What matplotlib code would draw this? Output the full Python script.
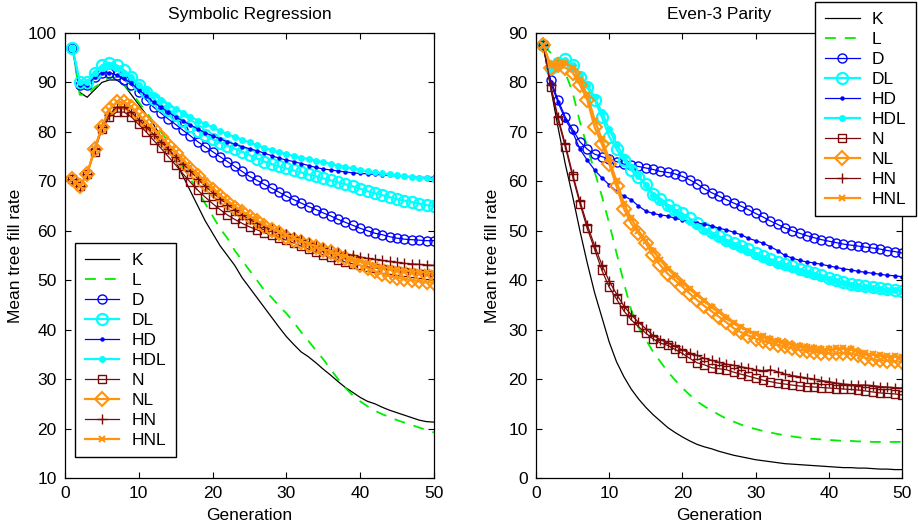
import numpy as np
import matplotlib
matplotlib.use("Agg")
import matplotlib.pyplot as plt

plt.rcParams['font.family'] = ['Liberation Sans', 'DejaVu Sans']

gens = list(range(1, 51))
labels = ["K", "L", "D", "DL", "HD", "HDL", "N", "NL", "HN", "HNL"]
titles = ["Symbolic Regression", "Even-3 Parity"]

# ---------------- Symbolic Regression ----------------
sr_K = [97, 88, 87, 88.5, 90, 90.5, 90.5, 89.5, 87.5, 85.5, 83.5, 81.5, 79, 76.5, 74, 71, 68, 65, 62, 59.5,
        57, 55, 53, 50.5, 48.5, 46.5, 44.5, 42.5, 40.5, 38.6, 37, 35.5, 34.5, 33.3, 32, 30.8, 29.5, 28.3, 27.3, 26.3,
        25.5, 25, 24.3, 23.7, 23.2, 22.7, 22.2, 21.7, 21.4, 21.3]
sr_L = [97, 87.5, 87.5, 89, 90, 91, 91, 89.5, 88, 86, 84, 82, 80, 78, 75.5, 73, 70.5, 68, 65.5, 63,
        60.5, 58.5, 56, 54, 52, 50, 48, 46.5, 44.8, 43.3, 41.5, 39.5, 37.7, 35.8, 34, 32, 30, 28.2, 26.7, 25.5,
        24.5, 23.6, 22.9, 22.3, 21.7, 21.2, 20.7, 20.2, 19.7, 19.2]
sr_D = [97, 89.5, 89.5, 91, 92, 92, 91.5, 90.5, 89.5, 88, 86.5, 85, 83.8, 82.6, 81.5, 80.3, 79.2, 78, 77, 76,
        75, 74, 73, 72, 71, 70.2, 69.4, 68.6, 67.8, 67, 66.3, 65.6, 64.9, 64.3, 63.6, 63, 62.3, 61.7, 61.1, 60.5,
        60, 59.5, 59.2, 58.8, 58.5, 58.3, 58.2, 58.1, 58, 58]
sr_DL = [97, 90, 90, 92, 93.5, 94, 93.5, 92.5, 91, 89.5, 88, 86.7, 85.5, 84.5, 83.5, 82.3, 81.2, 80.2, 79.3, 78.5,
         77.8, 77.2, 76.6, 76, 75.3, 74.6, 74, 73.5, 73, 72.6, 72.2, 71.8, 71.4, 71, 70.6, 70.2, 69.8, 69.4, 69, 68.5,
         68, 67.6, 67.2, 66.8, 66.4, 66.1, 65.8, 65.5, 65.2, 65]
sr_HD = [97, 89.5, 89.5, 91, 92, 92, 91.5, 90.8, 89.8, 88.5, 87.3, 86, 85, 84, 83, 82.2, 81.4, 80.6, 79.8, 79.2,
         78.6, 78, 77.5, 77, 76.6, 76.2, 75.7, 75.2, 74.7, 74.3, 74, 73.6, 73.2, 72.8, 72.5, 72.3, 72.1, 71.9, 71.7, 71.6,
         71.5, 71.4, 71.3, 71.2, 71.1, 71, 70.9, 70.8, 70.8, 70.8]
sr_HDL = [97, 90, 90, 92, 93, 93.5, 93, 92, 91, 89.5, 88.5, 87.5, 86.5, 85.5, 84.7, 83.9, 83.1, 82.3, 81.6, 80.9,
          80.2, 79.5, 79, 78.4, 77.9, 77.3, 76.8, 76.3, 75.9, 75.5, 75.1, 74.8, 74.5, 74.2, 73.9, 73.5, 73.2, 72.9, 72.6, 72.3,
          72, 71.8, 71.6, 71.4, 71.2, 71, 70.9, 70.7, 70.6, 70.5]
sr_N = [70.5, 69, 71.5, 76, 80.5, 83, 84, 84, 83, 81.5, 80, 78.3, 76.7, 75, 73.3, 71.5, 69.8, 68.2, 66.8, 65.5,
        64.3, 63.2, 62.3, 61.5, 60.8, 60.2, 59.6, 59.1, 58.6, 58.1, 57.5, 56.9, 56.3, 55.7, 55.1, 54.6, 54.1, 53.7, 53.3, 53,
        52.7, 52.5, 52.3, 52.1, 51.9, 51.7, 51.5, 51.3, 51.1, 51]
sr_NL = [70.5, 69, 71.5, 76.5, 81, 84.5, 86, 86, 85, 83.5, 82, 80.5, 79, 77.3, 75.7, 74, 72.5, 71, 69.5, 68.2,
         67, 65.8, 64.7, 63.7, 62.8, 61.9, 61, 60.2, 59.5, 58.8, 58.2, 57.7, 57.2, 56.7, 56.2, 55.7, 55.2, 54.5, 53.8, 53,
         52.4, 51.8, 51.3, 50.8, 50.5, 50.2, 50, 49.8, 49.6, 49.5]
sr_HN = [70.5, 69, 71.5, 76.5, 81, 83.5, 85, 85, 84, 82.5, 81, 79.5, 78, 76.5, 75, 73.5, 72, 70.5, 69, 67.7,
         66.5, 65.3, 64.2, 63.2, 62.3, 61.5, 60.8, 60.3, 59.8, 59.3, 58.8, 58.2, 57.6, 57, 56.5, 56, 55.6, 55.3, 55, 54.7,
         54.4, 54.2, 54, 53.8, 53.6, 53.4, 53.3, 53.2, 53.1, 53]
sr_HNL = [70.5, 69, 71.5, 76.5, 81, 84.5, 86, 86, 85, 83.5, 82, 80.5, 79, 77.5, 76, 74.4, 72.9, 71.4, 70, 68.6,
          67.3, 66.1, 65, 64, 63, 62.1, 61.3, 60.5, 59.8, 59.2, 58.6, 58, 57.4, 56.8, 56.3, 55.8, 55.3, 54.8, 54.3, 53.8,
          53.4, 53, 52.7, 52.4, 52.2, 52, 51.8, 51.7, 51.6, 51.5]

# ---------------- Even-3 Parity ----------------
ep_K = [87.5, 79, 71, 63.5, 57, 50, 43.5, 37.5, 32.5, 27.5, 23.5, 20.5, 18, 16, 14.3, 12.8, 11.5, 10.2, 9.2, 8.3,
        7.5, 6.8, 6.3, 5.9, 5.4, 5, 4.6, 4.3, 4, 3.7, 3.5, 3.3, 3.1, 2.9, 2.8, 2.7, 2.6, 2.5, 2.4, 2.3,
        2.2, 2.1, 2.1, 2, 2, 1.9, 1.8, 1.8, 1.7, 1.7]
ep_L = [87.5, 86, 84.5, 82, 78, 72, 67, 62, 57, 51.5, 45.5, 39.5, 34, 30.5, 28, 25.5, 23.5, 21.5, 19.8, 18.2,
        16.8, 15.5, 14.5, 13.6, 12.8, 12, 11.4, 10.8, 10.3, 9.9, 9.5, 9.2, 8.9, 8.6, 8.4, 8.2, 8, 7.9, 7.8, 7.7,
        7.6, 7.5, 7.5, 7.4, 7.4, 7.3, 7.3, 7.3, 7.3, 7.3]
ep_D = [87.5, 80.5, 76.5, 73, 70.5, 68, 66.5, 65.5, 65, 64.5, 64, 63.5, 63.3, 63, 62.7, 62.4, 62, 61.8, 61.5, 61,
        60.3, 59.5, 58.5, 57.7, 57, 56.3, 55.6, 55, 54.3, 53.5, 52.8, 52, 51.3, 50.6, 50, 49.5, 49, 48.6, 48.2, 47.9,
        47.6, 47.3, 47.1, 46.9, 46.7, 46.5, 46.3, 46, 45.8, 45.5]
ep_DL = [87.5, 83, 84, 84.8, 83.5, 81, 79, 76.5, 73, 69, 66.5, 64.3, 62.3, 60.8, 59.5, 57.5, 56.5, 55.3, 54.3, 53.5,
         52.5, 51.6, 50.5, 49.7, 48.9, 48.2, 47.6, 47, 46.3, 45.5, 44.8, 44.2, 43.7, 43.3, 42.8, 42.3, 41.9, 41.5, 41, 40.5,
         40, 39.6, 39.3, 39, 38.8, 38.6, 38.4, 38.2, 38, 37.8]
ep_HD = [87.5, 80, 76, 72.5, 70, 66.5, 64.3, 62.3, 60.7, 59.3, 58, 57, 56.3, 55, 54, 53.5, 53.2, 53, 52.5, 52.2,
         52, 51.6, 51.3, 51, 50.5, 50.2, 49.7, 49.2, 48.5, 48, 47.5, 46.8, 46, 45, 44.5, 44, 43.7, 43.5, 43.2, 42.9,
         42.6, 42.3, 42.1, 41.8, 41.6, 41.4, 41.2, 41, 40.9, 40.7]
ep_HDL = [87.5, 82.5, 83.5, 84.5, 83.5, 81.5, 79.5, 77, 74, 70.5, 67.5, 65, 62.8, 61, 59.3, 57.3, 56, 54.8, 53.7, 52.8,
          51.8, 50.9, 50, 49.2, 48.4, 47.7, 47.1, 46.5, 45.8, 45.1, 44.4, 43.8, 43.3, 42.9, 42.4, 41.9, 41.5, 41.1, 40.7, 40.2,
          39.8, 39.4, 39.1, 38.8, 38.6, 38.4, 38.2, 38.1, 38, 37.9]
ep_N = [87.5, 79, 72.5, 67, 61, 55.5, 50.5, 46.3, 42, 38.6, 36.2, 33.8, 32, 30.6, 29.3, 28.1, 27.3, 26.8, 26, 25.2,
        24.2, 23.3, 22.9, 22.3, 22.1, 21.9, 21.4, 21, 20.6, 20.2, 19.8, 19.5, 19.2, 19, 18.8, 18.6, 18.5, 18.4, 18.3, 18.2,
        18.1, 18, 17.9, 17.8, 17.6, 17.4, 17.2, 17.1, 17, 16.8]
ep_NL = [87.5, 83, 83.5, 83, 82, 79.5, 76.5, 71, 67.5, 63.5, 59, 54.5, 51.5, 49.5, 47.5, 45, 43, 41.3, 40, 38.7,
         37.3, 36, 34.8, 33.7, 32.6, 31.5, 30.3, 29.5, 28.8, 28.2, 27.7, 27.3, 26.9, 26.6, 26.2, 25.9, 25.7, 25.5, 25.3, 25.2,
         25.2, 25.3, 25.2, 24.8, 24.3, 24, 23.8, 23.7, 23.6, 23.5]
ep_HN = [87.5, 79.5, 73, 67.5, 61.5, 56, 51.2, 47, 43.1, 39.8, 37.2, 34.8, 33, 31.5, 30.2, 28.8, 28, 27.3, 26.6, 25.9,
         25.3, 24.8, 24.2, 23.8, 23.4, 23, 22.8, 22.5, 22.2, 21.9, 21.7, 21.9, 21.5, 21, 20.7, 20.5, 20.2, 20, 19.7, 19.5,
         19.2, 19, 18.9, 18.8, 18.8, 18.7, 18.5, 18.4, 18.3, 18.2]
ep_HNL = [87.5, 83.5, 84, 84, 83, 80.5, 77.5, 72.5, 68.5, 64.5, 60, 55.5, 52.5, 50, 48, 46, 44, 42.3, 40.8, 39.5,
          38.2, 37, 35.8, 34.5, 33.5, 32.3, 31.3, 30.5, 29.8, 29.2, 28.7, 28.2, 27.7, 27.3, 27, 26.7, 26.4, 26.2, 26, 26,
          26.2, 26.3, 26, 25.5, 25.2, 25, 24.8, 24.7, 24.6, 24.5]

sr_series = [sr_K, sr_L, sr_D, sr_DL, sr_HD, sr_HDL, sr_N, sr_NL, sr_HN, sr_HNL]
ep_series = [ep_K, ep_L, ep_D, ep_DL, ep_HD, ep_HDL, ep_N, ep_NL, ep_HN, ep_HNL]

blue = '#0000ff'
cyan = '#00ffff'
green = '#00ee00'
dred = '#7a0a0a'
orange = '#ff9410'

styles = {
    "K":   dict(color='black', lw=0.9, ls='-'),
    "L":   dict(color=green, lw=1.3, ls=(0, (6, 5))),
    "D":   dict(color=blue, lw=0.9, marker='o', ms=6.5, mfc='none', mew=1.0),
    "DL":  dict(color=cyan, lw=1.6, marker='o', ms=8, mfc='none', mew=1.6),
    "HD":  dict(color=blue, lw=0.9, marker='o', ms=3.2, mfc=blue, mew=0),
    "HDL": dict(color=cyan, lw=1.6, marker='o', ms=5, mfc=cyan, mew=0),
    "N":   dict(color=dred, lw=0.9, marker='s', ms=5.5, mfc='none', mew=1.0),
    "NL":  dict(color=orange, lw=1.6, marker='D', ms=7, mfc='none', mew=1.5),
    "HN":  dict(color=dred, lw=0.9, marker='+', ms=7, mew=1.0),
    "HNL": dict(color=orange, lw=1.6, marker='x', ms=5, mew=1.5),
}

FS = 12.5

fig = plt.figure(figsize=(9.18, 5.29), dpi=100)
ax1 = fig.add_axes([65/918, 1-478/529, 369/918, 445/529])
ax2 = fig.add_axes([536/918, 1-478/529, 366/918, 445/529])

for ax, series, title in [(ax1, sr_series, titles[0]), (ax2, ep_series, titles[1])]:
    for lab, vals in zip(labels, series):
        ax.plot(gens, vals, label=lab, **styles[lab])
    ax.set_xlim(0, 50)
    ax.set_xticks([0, 10, 20, 30, 40, 50])
    ax.tick_params(direction='in', top=True, right=True, labelsize=FS, length=4, width=0.8, pad=6)
    ax.set_xlabel("Generation", fontsize=FS, labelpad=5)
    ax.set_title(title, fontsize=FS, pad=10)
    for sp in ax.spines.values():
        sp.set_linewidth(0.9)

ax1.set_ylabel("Mean tree fill rate", fontsize=FS, labelpad=3)
ax2.set_ylabel("Mean tree fill rate", fontsize=FS, labelpad=6)

ax1.set_ylim(10, 100)
ax1.set_yticks(range(10, 101, 10))
ax2.set_ylim(0, 90)
ax2.set_yticks(range(0, 91, 10))

leg_kw = dict(fontsize=FS, frameon=True, fancybox=False, framealpha=1, edgecolor='black',
              handlelength=2.0, labelspacing=0.28, borderpad=0.55, handletextpad=0.7, borderaxespad=0)
l1 = ax1.legend(loc='upper left', bbox_to_anchor=(75/918, 1-243/529), bbox_transform=fig.transFigure, **leg_kw)
l2 = ax2.legend(loc='upper right', bbox_to_anchor=(916/918, 1-2/529), bbox_transform=fig.transFigure, **leg_kw)
for l in (l1, l2):
    l.get_frame().set_linewidth(1.0)

fig.savefig("out.png", dpi=100)
